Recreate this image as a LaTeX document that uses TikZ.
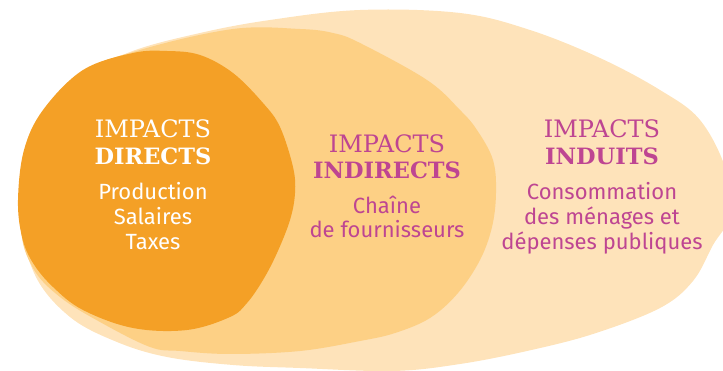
\documentclass[tikz,border=0pt]{standalone}
\usepackage{fontspec}
\setmainfont{DejaVu Serif}
\newfontfamily\bodyfont{Fira Sans}
\usepackage{tikz}

\definecolor{induitcol}{HTML}{FEE3BA}
\definecolor{indirectcol}{HTML}{FDD085}
\definecolor{directcol}{HTML}{F4A026}
\definecolor{magentatxt}{HTML}{BE4592}

\tikzset{
  head/.style={anchor=base, inner sep=0pt, font=\fontsize{24}{24}\selectfont},
  headbold/.style={head, font=\fontsize{22.5}{22.5}\selectfont\bfseries},
  body/.style={anchor=base, inner sep=0pt, font=\bodyfont\fontsize{22}{22}\selectfont}
}

\begin{document}
\begin{tikzpicture}[x=1pt, y=-1pt]

    \useasboundingbox (0,0) rectangle (723,371);
    \clip (0,0) rectangle (723,371);

    % blobs
    \fill[induitcol] plot[smooth cycle, tension=0.6] coordinates {
        (130,52) (200,33) (270,20) (360,10) (460,13) (530,30) (600,58) (660,90)
        (700,120) (726,170) (730,215) (713,245) (693,281) (660,308) (593,334)
        (527,351) (460,364) (393,371) (300,368) (233,365) (167,357) (117,342)
        (70,317) (35,275) (22,215) (40,140) (80,80)};
    \fill[indirectcol] plot[smooth cycle, tension=0.6] coordinates {
        (140,50) (233,29) (300,29) (333,33) (360,43) (427,80) (460,110) (477,130)
        (493,160) (496,193) (492,227) (480,260) (458,293) (430,318) (395,333)
        (360,341) (300,351) (230,354) (180,351) (150,347) (100,322) (60,297)
        (33,268) (21,225) (30,140) (80,75)};
    \fill[directcol] plot[smooth cycle, tension=0.6] coordinates {
        (18,200) (24,150) (43,110) (83,70) (133,53) (167,51) (200,55) (233,73)
        (263,103) (280,127) (293,167) (295,193) (290,220) (277,253) (263,280)
        (247,303) (230,317) (187,330) (133,328) (83,310) (53,287) (33,263)
        (22,237)};

    % impacts directs
    \node[head, white] (dirA) at (153,138) {IMPACTS};
    \node[headbold, white] (dirB) at (153,165) {DIRECTS};
    \node[body, white] (dirC) at (153,200) {Production};
    \node[body, white] (dirD) at (153,225) {Salaires};
    \node[body, white] (dirE) at (153,250) {Taxes};

    % impacts indirects
    \node[head, magentatxt] (indA) at (387,153) {IMPACTS};
    \node[headbold, magentatxt] (indB) at (387,179) {INDIRECTS};
    \node[body, magentatxt] (indC) at (387,214) {Chaîne};
    \node[body, magentatxt] (indD) at (387,238) {de fournisseurs};

    % impacts induits
    \node[head, magentatxt] (indtA) at (602,138) {IMPACTS};
    \node[headbold, magentatxt] (indtB) at (602,165) {INDUITS};
    \node[body, magentatxt] (indtC) at (602,200) {Consommation};
    \node[body, magentatxt] (indtD) at (602,225) {des ménages et};
    \node[body, magentatxt] (indtE) at (602,250) {dépenses publiques};
\end{tikzpicture}
\end{document}
